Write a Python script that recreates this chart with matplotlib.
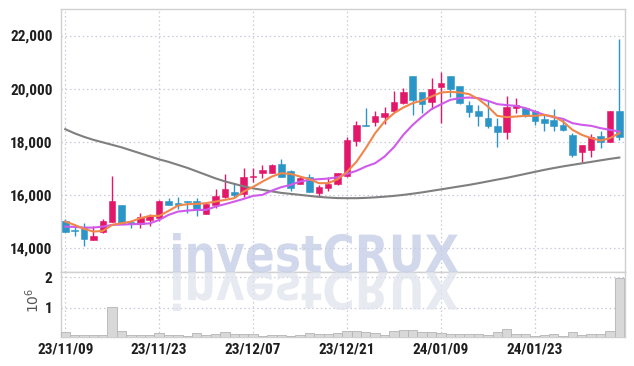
import matplotlib
matplotlib.use('Agg')
import matplotlib.pyplot as plt
from matplotlib.textpath import TextPath
from matplotlib.patches import PathPatch
from matplotlib.font_manager import FontProperties
from matplotlib.transforms import Affine2D, IdentityTransform
from matplotlib.ticker import FuncFormatter, FixedLocator

dates = ["23/11/09", "23/11/10", "23/11/13", "23/11/14", "23/11/15", "23/11/16", "23/11/17",
         "23/11/20", "23/11/21", "23/11/22", "23/11/23", "23/11/24", "23/11/27", "23/11/28",
         "23/11/29", "23/11/30", "23/12/01", "23/12/04", "23/12/05", "23/12/06", "23/12/07",
         "23/12/08", "23/12/11", "23/12/12", "23/12/13", "23/12/14", "23/12/15", "23/12/18",
         "23/12/19", "23/12/20", "23/12/21", "23/12/22", "23/12/26", "23/12/27", "23/12/28",
         "24/01/02", "24/01/03", "24/01/04", "24/01/05", "24/01/08", "24/01/09", "24/01/10",
         "24/01/11", "24/01/12", "24/01/15", "24/01/16", "24/01/17", "24/01/18", "24/01/19",
         "24/01/22", "24/01/23", "24/01/24", "24/01/25", "24/01/26", "24/01/29", "24/01/30",
         "24/01/31", "24/02/01", "24/02/02", "24/02/05"]

opens = [15000, 14650, 14730, 14290, 14590, 14980, 15590, 14980, 14880, 15050,
         15100, 15760, 15700, 15740, 15760, 15270, 15610, 15920, 16110, 16010,
         16660, 16830, 16810, 17160, 16890, 16400, 16660, 16050, 16260, 16390,
         16700, 18040, 18620, 18730, 18940, 19170, 19450, 20460, 19870, 19490,
         20050, 20460, 20090, 19380, 19170, 18890, 18600, 18350, 19280, 19250,
         19150, 18860, 18820, 18630, 18250, 17590, 17690, 18210, 17980, 19170]
highs = [15070, 14790, 14920, 14830, 15070, 16700, 15620, 14990, 15300, 15280,
         15800, 15860, 15900, 15770, 15860, 15700, 16200, 16770, 16450, 17000,
         17000, 17120, 17160, 17340, 16930, 16710, 16780, 16370, 16660, 16830,
         18190, 18790, 19260, 19170, 19300, 19900, 20020, 20470, 19880, 20390,
         20640, 20470, 20100, 19540, 19390, 19550, 18880, 19720, 19630, 19300,
         19200, 19010, 19220, 18880, 18320, 17880, 18290, 18380, 19170, 21880]
lows = [14570, 14440, 14065, 14290, 14540, 14980, 14940, 14730, 14755, 14800,
        15000, 15600, 15450, 15320, 15200, 15260, 15490, 15860, 15860, 15900,
        16490, 16620, 16800, 16650, 16150, 16390, 16080, 15920, 16150, 16380,
        16680, 17850, 18570, 18570, 18680, 19070, 19420, 19020, 19070, 19210,
        18700, 19680, 19400, 18920, 18570, 18500, 17810, 18090, 19070, 18920,
        18610, 18380, 18380, 18400, 17430, 17240, 17430, 17750, 17970, 18060]
closes = [14600, 14620, 14320, 14440, 15010, 15760, 14940, 14880, 15170, 15180,
          15760, 15610, 15590, 15720, 15420, 15640, 15950, 16200, 15990, 16660,
          16700, 16930, 17120, 16680, 16240, 16620, 16110, 16280, 16390, 16810,
          18060, 18620, 18600, 18980, 19070, 19490, 19870, 19570, 19420, 19980,
          20210, 19990, 19460, 19130, 18980, 18570, 18350, 19320, 19380, 18980,
          18790, 18690, 18600, 18420, 17500, 17870, 18190, 18000, 19150, 18190]

ma_short = [14981, 14857, 14706, 14604, 14630, 14857, 14921, 14981, 15110, 15196,
            15196, 15385, 15585, 15638, 15649, 15676, 15736, 15800, 15864, 16113,
            16291, 16491, 16680, 16808, 16781, 16680, 16581, 16431, 16431, 16581,
            16857, 17234, 17751, 18317, 18755, 19072, 19284, 19450, 19548, 19699,
            19850, 19876, 19850, 19789, 19601, 19321, 18970, 18921, 18944, 18970,
            18970, 19008, 18944, 18755, 18442, 18253, 18129, 18038, 18129, 18317]
ma_mid = [14793, 14781, 14755, 14755, 14793, 14857, 14868, 14883, 14894, 14913,
          15045, 15234, 15359, 15396, 15423, 15423, 15547, 15638, 15736, 15838,
          15951, 15989, 16151, 16279, 16366, 16491, 16555, 16581, 16604, 16657,
          16781, 16895, 17057, 17185, 17434, 17789, 18253, 18631, 18944, 19223,
          19404, 19574, 19638, 19661, 19638, 19536, 19412, 19374, 19348, 19261,
          19133, 19008, 18921, 18857, 18695, 18631, 18593, 18506, 18442, 18378]
ma_long = [18468, 18310, 18178, 18065, 17970, 17876, 17782, 17668, 17555, 17442,
           17329, 17234, 17121, 17008, 16876, 16744, 16612, 16498, 16404, 16310,
           16234, 16178, 16121, 16064, 16027, 15989, 15951, 15913, 15887, 15868,
           15864, 15864, 15876, 15895, 15921, 15951, 15989, 16034, 16083, 16140,
           16196, 16253, 16310, 16366, 16430, 16498, 16566, 16631, 16706, 16781,
           16857, 16932, 17000, 17064, 17121, 17178, 17234, 17291, 17347, 17397]

volume_m = [0.21, 0.12, 0.11, 0.11, 0.11, 1.02, 0.25, 0.11, 0.11, 0.11,
            0.18, 0.11, 0.10, 0.08, 0.18, 0.10, 0.14, 0.21, 0.15, 0.15,
            0.14, 0.07, 0.10, 0.10, 0.08, 0.10, 0.18, 0.13, 0.13, 0.18,
            0.25, 0.24, 0.21, 0.18, 0.11, 0.25, 0.28, 0.28, 0.20, 0.22,
            0.18, 0.15, 0.15, 0.15, 0.15, 0.12, 0.22, 0.31, 0.15, 0.15,
            0.08, 0.11, 0.15, 0.08, 0.21, 0.11, 0.15, 0.14, 0.24, 1.97]

price_ticks = [14000, 16000, 18000, 20000, 22000]
volume_ticks = [1, 2]
date_tick_idx = [0, 10, 20, 30, 40, 50]

UP = '#E2176A'
DOWN = '#2C95C8'
GRID = '#C9CAD9'
SPINE = '#D0D0D0'
TXT = '#1E1E1E'
tick_font = ['Roboto Condensed', 'Roboto', 'DejaVu Sans']

W, H = 634, 366
fig = plt.figure(figsize=(W / 100, H / 100), dpi=100)
L, R = 61 / W, 625 / W
ax = fig.add_axes([L, 1 - 272 / H, R - L, (272 - 9) / H])
axv = fig.add_axes([L, 1 - 337 / H, R - L, (337 - 272) / H], sharex=ax)

x = list(range(len(dates)))
body_w = 0.7
for i in x:
    o, h, l, c = opens[i], highs[i], lows[i], closes[i]
    col = UP if c >= o else DOWN
    ax.vlines(i, l, h, color=col, lw=1.0, zorder=3)
    lo, hi = min(o, c), max(o, c)
    if hi - lo < 25:
        lo, hi = (lo + hi) / 2 - 12, (lo + hi) / 2 + 12
    ax.bar(i, hi - lo, bottom=lo, width=body_w, color=col, edgecolor=col, lw=0.4, zorder=4)

ax.plot(x, ma_long, color='#7F7F7F', lw=1.5, zorder=5)
ax.plot(x, ma_mid, color='#CF5BEA', lw=1.5, zorder=5)
ax.plot(x, ma_short, color='#F0864A', lw=1.5, zorder=6)

axv.bar(x, volume_m, width=1.0, color='#D8D8D8', edgecolor='#B5B5B5', lw=0.6, zorder=3)

ax.set_xlim(-0.45, 59.6)
ax.set_ylim(13080, 23000)
axv.set_ylim(0.045, 2.17)

for a in (ax, axv):
    a.grid(True, color=GRID, ls=(0, (1.2, 2.2)), lw=0.9, zorder=0)
    for s in a.spines.values():
        s.set_color(SPINE)
        s.set_linewidth(1.0)
    a.tick_params(length=0, colors=TXT)

ax.yaxis.set_major_locator(FixedLocator(price_ticks))
ax.yaxis.set_major_formatter(FuncFormatter(lambda v, p: f"{int(v):,}"))
axv.yaxis.set_major_locator(FixedLocator(volume_ticks))
axv.yaxis.set_major_formatter(FuncFormatter(lambda v, p: f"{int(v)}"))
axv.xaxis.set_major_locator(FixedLocator(date_tick_idx))
axv.xaxis.set_major_formatter(FuncFormatter(lambda v, p: dates[int(round(v))] if 0 <= int(round(v)) < len(dates) else ''))
ax.tick_params(axis='x', labelbottom=False)
ax.tick_params(axis='y', pad=6)
axv.tick_params(axis='y', pad=6)
axv.tick_params(axis='x', pad=4)
for lab in ax.get_yticklabels() + axv.get_yticklabels() + axv.get_xticklabels():
    lab.set_fontfamily(tick_font)
    lab.set_fontweight('bold')
    lab.set_fontstretch('condensed')
    lab.set_fontsize(11)
    lab.set_color(TXT)

fig.text(33 / W, 1 - 300 / H, r'$10^6$', rotation=90, ha='center', va='center',
         fontsize=10, color='#555555')

# watermark with reflection
fp = FontProperties(family='DejaVu Sans', weight='bold')
tp = TextPath((0, 0), 'investCRUX', size=100, prop=fp)
bb = tp.get_extents()
x0, x1 = 173, 458
ytop, ybase = 233, 272
sx = (x1 - x0) / bb.width
sy = (ybase - ytop) / (bb.y1 - 0)
base_disp = H - ybase
tr_main = Affine2D().translate(-bb.x0, 0).scale(sx, sy).translate(x0, base_disp)
tr_refl = Affine2D().translate(-bb.x0, 0).scale(sx, -sy).translate(x0, base_disp)
fig.add_artist(PathPatch(tr_refl.transform_path(tp), transform=IdentityTransform(),
                         facecolor=(0.88, 0.89, 0.93), edgecolor='none', alpha=0.75, zorder=2))
fig.add_artist(PathPatch(tr_main.transform_path(tp), transform=IdentityTransform(),
                         facecolor=(0.77, 0.80, 0.90), edgecolor='none', alpha=0.75, zorder=2))

fig.savefig('out.png', dpi=100)
